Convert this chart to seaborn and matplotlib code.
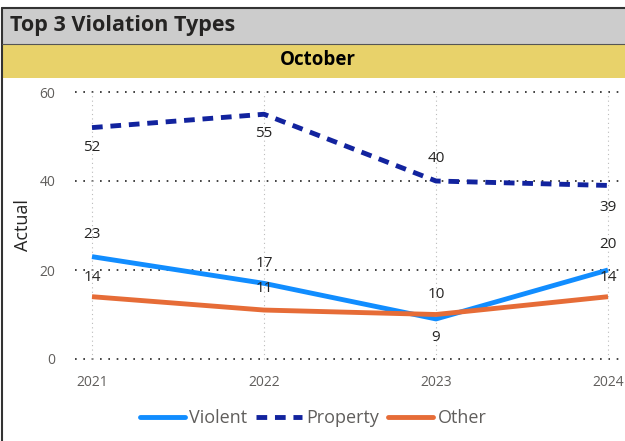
import pandas as pd
import seaborn as sns
import matplotlib.pyplot as plt
from matplotlib.patches import Rectangle
from matplotlib.lines import Line2D

sns.set_style("white")
plt.rcParams['font.family'] = ['Open Sans', 'DejaVu Sans']

years = [2021, 2022, 2023, 2024]
violent = [23, 17, 9, 20]
property_ = [52, 55, 40, 39]
other = [14, 11, 10, 14]
series_names = ['Violent', 'Property', 'Other']
colors = {'Violent': '#118DFF', 'Property': '#12239E', 'Other': '#E66C37'}

# label offsets in pixels (above / below the point)
offsets = {
    'Violent': [22, 20, -19, 26],
    'Property': [-20, -19, 22, -22],
    'Other': [19, 22, 20, 19],
}

df = pd.DataFrame({
    'year': years * 3,
    'value': violent + property_ + other,
    'type': ['Violent'] * 4 + ['Property'] * 4 + ['Other'] * 4,
})

W, H = 625, 441
fig = plt.figure(figsize=(W / 100, H / 100), dpi=100)

# header bars
fig.patches.append(Rectangle((2 / W, (H - 44) / H), 1, 36 / H, transform=fig.transFigure,
                             facecolor='#CCCCCC', edgecolor='none'))
fig.patches.append(Rectangle((2 / W, (H - 78) / H), 1, 34 / H, transform=fig.transFigure,
                             facecolor='#E8D26A', edgecolor='none'))
fig.add_artist(Line2D([2 / W, 1], [(H - 8) / H] * 2, color='#333333', lw=1.5))
fig.add_artist(Line2D([2 / W, 2 / W], [0, (H - 8) / H], color='#333333', lw=1.5))
fig.add_artist(Line2D([2 / W, 1], [(H - 44) / H] * 2, color='#555555', lw=0.8))
fig.text(10 / W, (H - 25) / H, 'Top 3 Violation Types', fontsize=15.5, fontweight='bold',
         color='#252423', va='center', ha='left')
fig.text(318 / W, (H - 60) / H, 'October', fontsize=13.5, fontweight='bold',
         color='#000000', va='center', ha='center')

# axes: y 0 at px 359, 60 at px 92
top_px, bot_px = 88, 363
ax = fig.add_axes([75 / W, (H - bot_px) / H, 550 / W, (bot_px - top_px) / H])
upp = 60 / (359 - 92)
ax.set_ylim(0 - (bot_px - 359) * upp, 60 + (92 - top_px) * upp)
ax.set_xlim(2021 - 17 / 172, 2024 + 17 / 172)

sns.lineplot(data=df, x='year', y='value', hue='type', style='type',
             hue_order=series_names, style_order=series_names,
             palette=colors, dashes={'Violent': '', 'Property': (2.2, 1.6), 'Other': ''},
             linewidth=3.5, ax=ax, legend=False, solid_capstyle='butt')

for yv in [0, 20, 40, 60]:
    ax.axhline(yv, color='#222222', lw=1.2, ls=(0, (1, 4)), zorder=0)
for xv in years:
    ax.axvline(xv, color='#BBBBBB', lw=0.8, ls=(0, (1, 3)), ymin=0.015, ymax=0.985, zorder=0)

vals = {'Violent': violent, 'Property': property_, 'Other': other}
for name in series_names:
    for x, y, off in zip(years, vals[name], offsets[name]):
        ax.annotate(str(y), (x, y), xytext=(0, off), textcoords='offset pixels',
                    ha='center', va='center', fontsize=11, color='#252423')

for s in ax.spines.values():
    s.set_visible(False)
ax.set_xticks(years)
ax.set_xticklabels([str(y) for y in years])
ax.set_yticks([0, 20, 40, 60])
ax.tick_params(axis='both', length=0, labelsize=10, labelcolor='#605E5C')
ax.tick_params(axis='x', pad=9)
ax.tick_params(axis='y', pad=14)
ax.set_xlabel('')
ax.set_ylabel('Actual', fontsize=13, color='#252423')
ax.yaxis.set_label_coords(-43 / 550, (bot_px - 225) / (bot_px - top_px))

handles = [Line2D([], [], color=colors['Violent'], lw=3.5),
           Line2D([], [], color=colors['Property'], lw=3.5, ls=(0, (2.2, 1.6))),
           Line2D([], [], color=colors['Other'], lw=3.5)]
fig.legend(handles, series_names, loc='center', bbox_to_anchor=(313 / W, (H - 418) / H),
           ncol=3, frameon=False, fontsize=13, labelcolor='#605E5C',
           handlelength=2.5, handletextpad=0.25, columnspacing=0.5)

fig.savefig('out.png', dpi=100)
